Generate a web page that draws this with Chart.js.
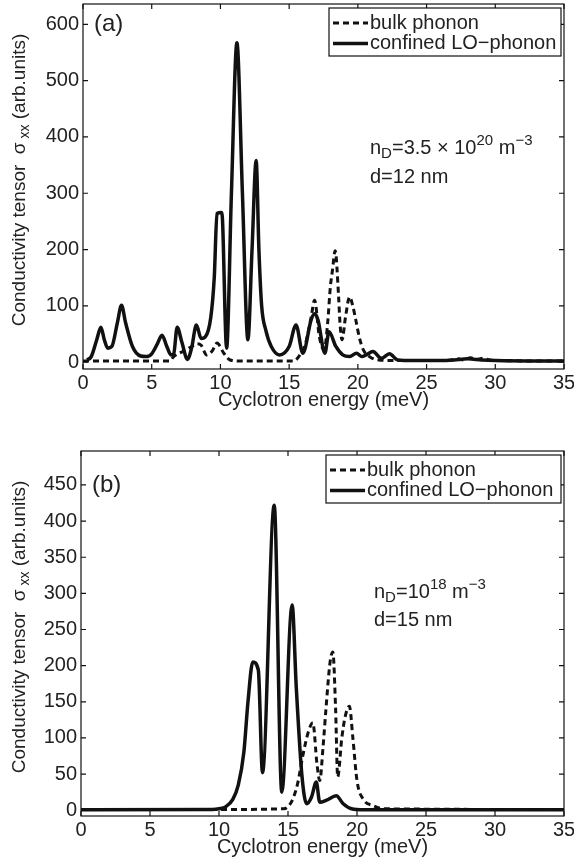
<!DOCTYPE html>
<html><head><meta charset="utf-8">
<script src="https://cdn.jsdelivr.net/npm/chart.js@4.4.0/dist/chart.umd.min.js"></script>
<style>
html,body{margin:0;padding:0;background:#fff;width:574px;height:865px;overflow:hidden}
.c{position:absolute;left:0}
</style></head><body>
<div class="c" style="top:0;width:574px;height:420px"><canvas id="ca" width="574" height="420"></canvas></div>
<div class="c" style="top:420px;width:574px;height:445px"><canvas id="cb" width="574" height="445"></canvas></div>
<script>
// ---------- data ----------
const xTicks = [0, 5, 10, 15, 20, 25, 30, 35];
const yTicksA = [0, 100, 200, 300, 400, 500, 600];
const yTicksB = [0, 50, 100, 150, 200, 250, 300, 350, 400, 450];
const seriesNames = ['bulk phonon', 'confined LO\u2212phonon'];

// panel (a): confined LO-phonon
const aConfE = [0.3,0.6,1.0,1.3,1.55,1.8,2.1,2.5,2.8,3.1,3.6,4.2,4.6,5.0,5.4,5.75,6.1,6.4,6.6,6.85,7.2,7.6,7.9,8.25,8.6,8.9,9.3,9.55,9.75,10.1,10.45,10.8,11.2,11.6,12.0,12.3,12.6,12.8,13.0,13.3,13.7,14.3,15.0,15.5,16.0,16.6,16.85,17.1,17.6,17.9,18.4,18.9,19.4,19.9,20.3,20.6,21.1,21.7,22.3,22.9,24,26,27,28,29,30,35];
const aConfS = [4,10,40,62,40,25,28,70,101,70,28,11,10,15,32,48,28,13,15,62,35,5,25,66,42,45,80,150,264,266,25,300,567,300,40,200,358,200,100,57,28,13,28,66,16,75,86,75,16,54,28,13,10,16,10,13,19,7,15,4,3,3,4,6,4,3,2];
// panel (a): bulk phonon
const aBulkE = [0,6.3,6.6,7.0,7.5,7.9,8.3,8.6,9.0,9.4,9.75,10.25,10.7,11.5,15.3,15.7,16.2,16.6,16.85,17.2,17.55,17.8,18.0,18.15,18.35,18.6,18.7,18.85,19.1,19.4,19.65,19.85,20.1,20.4,20.85,21.5,23,26.5,27.3,27.7,28.2,28.6,29.1,29.6,30.5,35];
const aBulkS = [2,2,10,16,22,28,33,30,13,20,34,16,4,2,2,10,34,80,110,45,22,69,134,163,198,116,69,40,80,116,98,75,45,22,10,4,3,3,6,4,8,5,7,4,3,2];

// panel (b): confined LO-phonon
const bConfE = [0,9.5,10.0,10.5,11.0,11.4,11.8,12.1,12.45,12.85,13.15,14.0,14.55,15.3,15.6,16.0,16.35,16.7,17.05,17.3,17.8,18.5,19.0,19.6,20.5,35];
const bConfS = [0.5,1,2,5,15,35,80,150,205,194,52,422,25,284,170,50,9,18,39,11,14,20,9,2,0.5,0.5];
// panel (b): bulk phonon
const bBulkE = [0,10,14.7,15.1,15.4,15.7,16.1,16.5,16.8,17.1,17.3,17.55,17.75,18.05,18.25,18.45,18.6,18.9,19.15,19.45,19.7,20.0,20.5,21.1,22,35];
const bBulkS = [1,1,2,7,18,37,78,110,121,64,41,90,140,205,219,140,46,100,130,144,100,41,14,7,2,1];

// ---------- drawing helpers ----------
const FONT = '"Liberation Sans", Arial, Helvetica, sans-serif';
const TXT = '#222';
const LINE = '#111';
function pts(xs, ys) { return xs.map((x, i) => ({ x: x, y: ys[i] })); }

function richWidth(ctx, parts) {
  let w = 0;
  parts.forEach(p => { ctx.font = p.s + 'px ' + FONT; w += ctx.measureText(p.t).width; });
  return w;
}
function drawRich(ctx, x, y, parts) {
  ctx.textBaseline = 'middle';
  ctx.textAlign = 'left';
  parts.forEach(p => {
    ctx.font = p.s + 'px ' + FONT;
    ctx.fillText(p.t, x, y + (p.dy || 0));
    x += ctx.measureText(p.t).width;
  });
}

const framePlugin = {
  id: 'frame',
  afterDraw(chart) {
    const { ctx, chartArea: a, scales: { x, y } } = chart;
    ctx.save();
    ctx.strokeStyle = LINE;
    ctx.lineWidth = 1.2;
    ctx.strokeRect(a.left, a.top, a.right - a.left, a.bottom - a.top);
    const L = 5;
    ctx.beginPath();
    x.ticks.forEach(t => {
      const px = x.getPixelForValue(t.value);
      ctx.moveTo(px, a.bottom); ctx.lineTo(px, a.bottom - L);
      ctx.moveTo(px, a.top); ctx.lineTo(px, a.top + L);
    });
    y.ticks.forEach(t => {
      const py = y.getPixelForValue(t.value);
      ctx.moveTo(a.left, py); ctx.lineTo(a.left + L, py);
      ctx.moveTo(a.right, py); ctx.lineTo(a.right - L, py);
    });
    ctx.stroke();
    ctx.restore();
  }
};

const notesPlugin = {
  id: 'notes',
  afterDraw(chart, args, o) {
    const { ctx, chartArea: a, scales: { y } } = chart;
    ctx.save();
    ctx.fillStyle = TXT;
    // panel label
    ctx.font = '24px ' + FONT;
    ctx.textBaseline = 'middle';
    ctx.textAlign = 'left';
    ctx.fillText(o.panel, a.left + 11, y.getPixelForValue(o.panelAt));
    // annotation
    drawRich(ctx, o.noteX, o.noteY1, o.note1);
    drawRich(ctx, o.noteX, o.noteY2, [{ t: o.note2, s: 20 }]);
    // legend
    const lb = { l: o.legL, t: a.top + 4, r: a.right - 3, b: a.top + 52 };
    ctx.fillStyle = '#fff';
    ctx.fillRect(lb.l, lb.t, lb.r - lb.l, lb.b - lb.t);
    ctx.strokeStyle = LINE;
    ctx.lineWidth = 1.2;
    ctx.strokeRect(lb.l, lb.t, lb.r - lb.l, lb.b - lb.t);
    const rows = [a.top + 19, a.top + 39.5];
    chart.data.datasets.forEach((ds, i) => {
      ctx.beginPath();
      ctx.lineWidth = ds.borderWidth;
      ctx.setLineDash(ds.borderDash || []);
      ctx.moveTo(lb.l + 4, rows[i]);
      ctx.lineTo(lb.l + 39, rows[i]);
      ctx.stroke();
      ctx.setLineDash([]);
      ctx.fillStyle = TXT;
      ctx.font = '20px ' + FONT;
      ctx.textBaseline = 'middle';
      ctx.fillText(ds.label, lb.l + 41, rows[i]);
    });
    // y axis title with subscript
    const parts = [
      { t: 'Conductivity tensor  \u03c3', s: 19 },
      { t: ' xx', s: 14, dy: 5 },
      { t: ' (arb.units)', s: 19 }
    ];
    const w = richWidth(ctx, parts);
    ctx.translate(20, o.titleCY);
    ctx.rotate(-Math.PI / 2);
    ctx.fillStyle = TXT;
    drawRich(ctx, -w / 2, 0, parts);
    ctx.restore();
  }
};

function makeChart(id, c) {
  const tickFont = { family: FONT, size: 20 };
  return new Chart(document.getElementById(id), {
    type: 'line',
    data: {
      datasets: [
        { label: seriesNames[0], data: pts(c.bulkE, c.bulkS), borderColor: LINE, borderWidth: 3,
          borderDash: [6, 4], pointRadius: 0, fill: false, cubicInterpolationMode: 'monotone', order: 1 },
        { label: seriesNames[1], data: pts(c.confE, c.confS), borderColor: LINE, borderWidth: 3.5,
          pointRadius: 0, fill: false, cubicInterpolationMode: 'monotone', order: 2 }
      ]
    },
    options: {
      responsive: false, animation: false, devicePixelRatio: 1,
      layout: { padding: { top: c.padTop, right: 10, left: 0, bottom: 0 } },
      plugins: {
        legend: { display: false }, tooltip: { enabled: false },
        notes: c.notes
      },
      scales: {
        x: {
          type: 'linear', min: 0, max: 35,
          grid: { display: false, drawTicks: false }, border: { display: false },
          ticks: { padding: 2, font: tickFont, color: TXT, maxRotation: 0, autoSkip: false },
          afterBuildTicks: s => { s.ticks = xTicks.map(v => ({ value: v })); },
          afterFit: s => { s.height = c.xH; s.paddingLeft = 0; s.paddingRight = 0; },
          title: { display: true, text: 'Cyclotron energy (meV)', font: { family: FONT, size: 20 }, color: TXT,
                   padding: { top: 0, bottom: c.titlePad } }
        },
        y: {
          type: 'linear', min: c.yMin, max: c.yMax,
          grid: { display: false, drawTicks: false }, border: { display: false },
          ticks: { padding: 4, font: tickFont, color: TXT, autoSkip: false },
          afterBuildTicks: s => { s.ticks = c.yTicks.map(v => ({ value: v })); },
          afterFit: s => { s.width = c.yW; s.paddingTop = 0; s.paddingBottom = 0; }
        }
      }
    },
    plugins: [framePlugin, notesPlugin]
  });
}

makeChart('ca', {
  bulkE: aBulkE, bulkS: aBulkS, confE: aConfE, confS: aConfS,
  yMin: -12, yMax: 636, yTicks: yTicksA, padTop: 4, xH: 51, yW: 83, titlePad: 8,
  notes: {
    panel: '(a)', panelAt: 600, legL: 329, titleCY: 180, noteX: 370, noteY1: 148, noteY2: 177,
    note1: [{ t: 'n', s: 20 }, { t: 'D', s: 15, dy: 6 }, { t: '=3.5 \u00d7 10', s: 20 }, { t: '20', s: 15, dy: -7 },
            { t: ' m', s: 20 }, { t: '\u22123', s: 15, dy: -7 }],
    note2: 'd=12 nm'
  }
});

makeChart('cb', {
  bulkE: bBulkE, bulkS: bBulkS, confE: bConfE, confS: bConfS,
  yMin: -8, yMax: 497, yTicks: yTicksB, padTop: 31, xH: 49, yW: 81, titlePad: 6,
  notes: {
    panel: '(b)', panelAt: 450, legL: 326, titleCY: 207, noteX: 374, noteY1: 172, noteY2: 200,
    note1: [{ t: 'n', s: 20 }, { t: 'D', s: 15, dy: 6 }, { t: '=10', s: 20 }, { t: '18', s: 15, dy: -7 },
            { t: ' m', s: 20 }, { t: '\u22123', s: 15, dy: -7 }],
    note2: 'd=15 nm'
  }
});
</script>
</body></html>
